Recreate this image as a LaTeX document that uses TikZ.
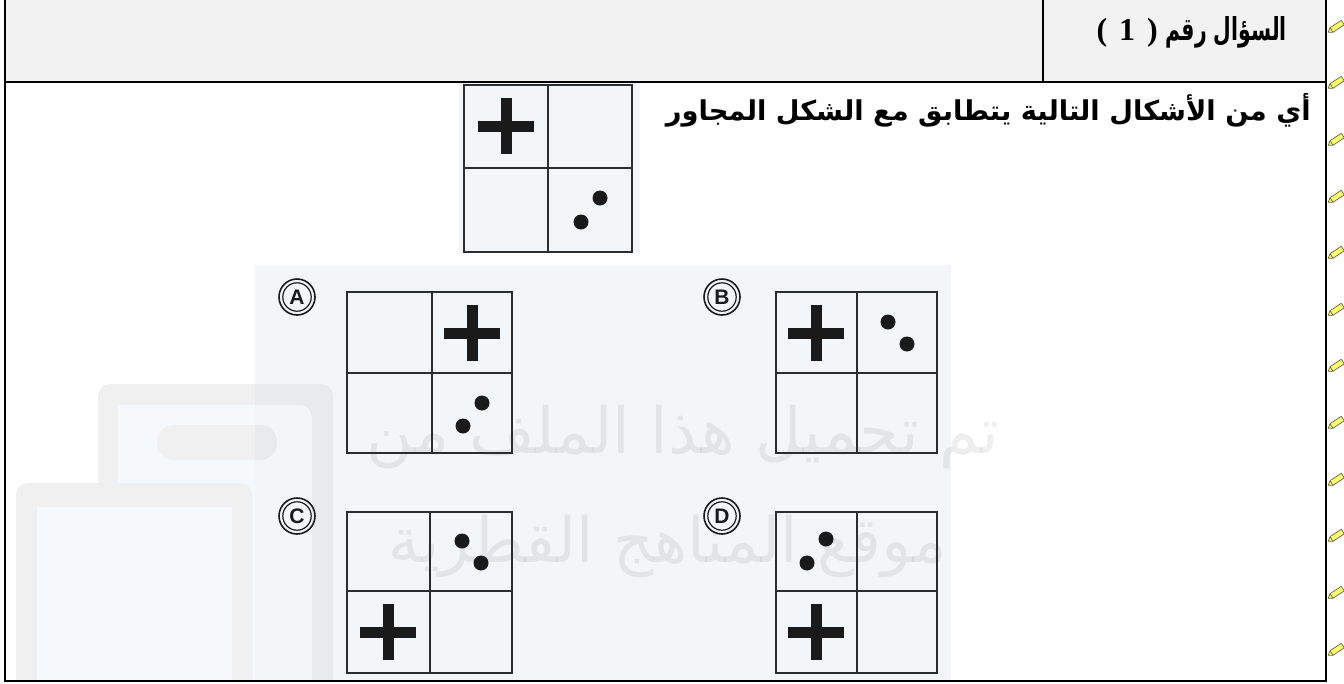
\documentclass[tikz,border=0pt]{standalone}
\usepackage{fontspec}
\usepackage{graphicx}
\setmainfont{Liberation Serif}
\newfontfamily\arabicfont[Script=Arabic]{DejaVu Sans}
\newfontfamily\serifbf{Liberation Serif}
\newfontfamily\lsans{Liberation Sans}
\TeXXeTstate=1
\definecolor{headerbg}{RGB}{242,242,242}
\definecolor{panelbg}{RGB}{243,246,248}
\definecolor{ink}{RGB}{26,26,26}
\definecolor{gridc}{RGB}{45,45,45}
\definecolor{wmgray}{RGB}{240,240,240}
\definecolor{wmblue}{RGB}{245,249,252}
\definecolor{pencilY}{RGB}{255,255,110}
\definecolor{pencilO}{RGB}{100,100,85}
\tikzset{
  frame/.style={line width=2.2pt, black},
  gridline/.style={line width=2pt, gridc},
  inkfill/.style={fill=ink},
  optring/.style={line width=1.6pt, ink},
  wmtext/.style={text=black, text opacity=0.065, inner sep=0pt},
  pencilbody/.style={fill=pencilY, draw=pencilO, line width=0.7pt, line join=round},
}
\newcommand\figgrid[6]{% x0 y0 x1 y1 xm ym
  \draw[gridline] (#1,#2) rectangle (#3,#4);
  \draw[gridline] (#5,#2) -- (#5,#4);
  \draw[gridline] (#1,#6) -- (#3,#6);}
\newcommand\figplus[2]{%
  \fill[inkfill] (#1-28,#2-5.5) rectangle (#1+28,#2+5.5);
  \fill[inkfill] (#1-5.5,#2-28) rectangle (#1+5.5,#2+28);}
\newcommand\figdot[2]{\fill[inkfill] (#1,#2) circle (7.5);}
\newcommand\optletter[3]{%
  \draw[optring] (#1,#2) circle (18);
  \draw[line width=1.2pt, ink] (#1,#2) circle (14.2);
  \node[inner sep=0pt, text=ink] at (#1,#2+0.5) {\lsans\bfseries\fontsize{21}{21}\selectfont #3};}
\newcommand\pencilmark[2]{%
  \begin{scope}[shift={(#1,#2)}, scale=1.35]
  \filldraw[pencilbody] (-5.8,3.85) -- (-2.2,3.9) -- (6.1,-1.6) -- (3.9,-5.0) -- (-4.4,0.5) -- cycle;
  \draw[pencilO, line width=0.7pt] (-2.2,3.9) -- (-4.4,0.5);
  \end{scope}}
\begin{document}
\begin{tikzpicture}[x=1pt,y=-1pt]
\useasboundingbox (0,0) rectangle (1344,683);
\fill[white] (0,0) rectangle (1344,683);
% header band
\fill[headerbg] (5,0) rectangle (1326,82);
% watermark icon (left)
\begin{scope}
  \clip (6,83) rectangle (1325,680);
  \fill[wmgray, rounded corners=12] (98,384) rectangle (333,720);
  \fill[wmblue] (118,405) rectangle (312,720);
  \fill[wmgray, rounded corners=17] (157,425) rectangle (277,460);
  \fill[wmgray, rounded corners=12] (16,483) rectangle (252,720);
  \fill[wmblue] (37,507) rectangle (232,720);
\end{scope}
% panels
\fill[panelbg] (459,83) rectangle (640,253);
\fill[panelbg] (255,265) rectangle (951,680);
% watermark icon seen through the panel
\begin{scope}
  \clip (255,265) rectangle (951,680);
  \fill[black, opacity=0.045, even odd rule, rounded corners=12] (98,384) rectangle (333,720) (118,405) rectangle (312,720);
  \fill[black, opacity=0.045, rounded corners=17] (157,425) rectangle (277,460);
\end{scope}
% watermark text
\node[wmtext] (wm1) at (683,437) {\resizebox{632pt}{!}{\arabicfont\beginR تم تحميل هذا الملف من\endR}};
\node[wmtext] (wm2) at (668,546) {\resizebox{558pt}{!}{\arabicfont\beginR موقع المناهج القطرية\endR}};
% frame
\draw[frame] (5,0) -- (5,681) -- (1326,681) -- (1326,0);
\draw[frame] (5,82) -- (1326,82);
\draw[frame] (1043,0) -- (1043,82);
% header text
\node[inner sep=0pt, anchor=base east] (titleAr) at (1287,40) {\resizebox{121pt}{24pt}{\arabicfont\bfseries\beginR السؤال رقم\endR}};
\node[inner sep=0pt, anchor=base east] (titleNum) at (1158,40) {\serifbf\bfseries\fontsize{32}{32}\selectfont (\hspace{12pt}1\hspace{12pt})};
% question text
\node[inner sep=0pt, anchor=east] (question) at (1311,110) {\resizebox{645pt}{!}{\arabicfont\bfseries\beginR أي من الأشكال التالية يتطابق مع الشكل المجاور\endR}};
% reference figure
\figgrid{464}{85}{632}{252}{548}{168}
\figplus{506}{126}
\figdot{600}{198}\figdot{581}{222}
% option A
\optletter{297}{297}{A}
\figgrid{347}{292}{512}{453}{432}{373}
\figplus{472}{333}
\figdot{482}{403}\figdot{463}{426}
% option B
\optletter{722}{297}{B}
\figgrid{776}{292}{937}{453}{857}{373}
\figplus{816}{333}
\figdot{888}{322}\figdot{907}{344}
% option C
\optletter{297}{516}{C}
\figgrid{347}{512}{512}{673}{430}{591}
\figdot{462}{541}\figdot{481}{563}
\figplus{388}{632}
% option D
\optletter{722}{516}{D}
\figgrid{776}{512}{937}{673}{857}{591}
\figdot{826}{539}\figdot{807}{563}
\figplus{816}{632}
% pencil marks on the right margin
\foreach \py in {27,83,140,197,253,310,366,423,480,536,593,650} {\pencilmark{1336}{\py}}
\end{tikzpicture}
\end{document}
